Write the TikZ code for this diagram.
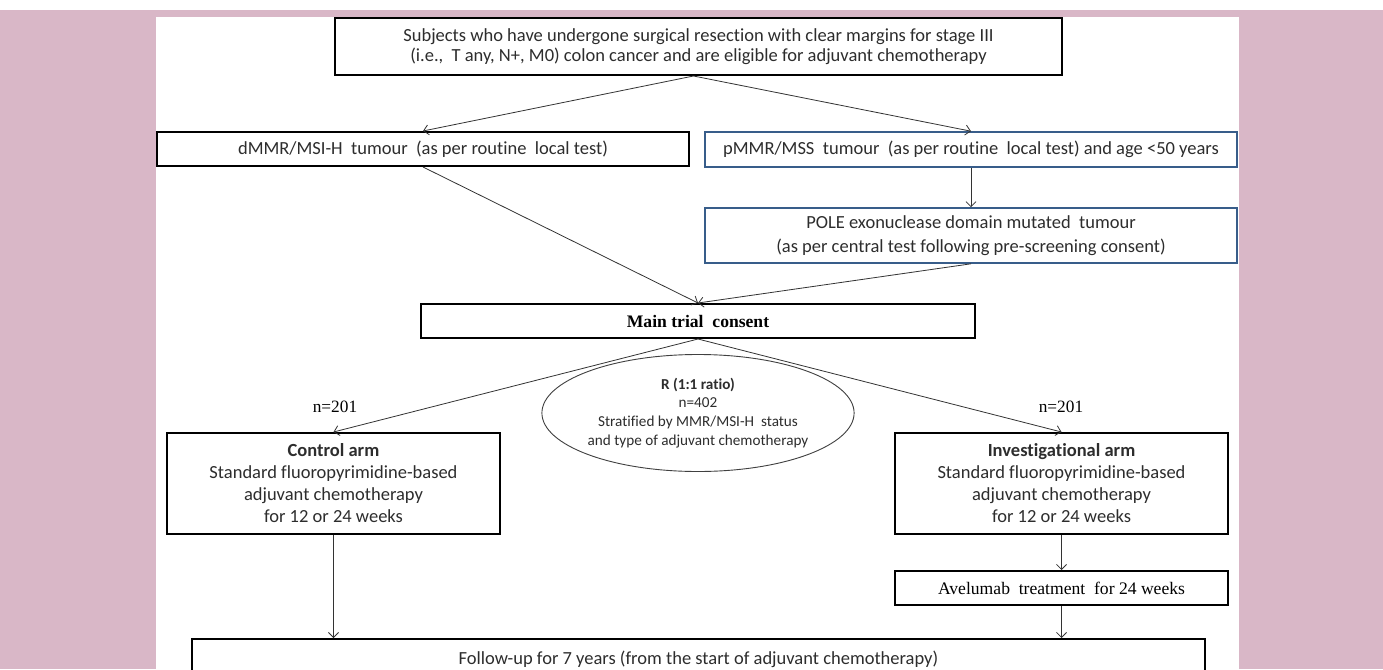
\documentclass[tikz,border=0pt]{standalone}
\usepackage{fontspec}
\setmainfont{Carlito}
\newfontfamily\calfont[Ligatures=NoCommon]{Carlito}
\newfontfamily\tmsfont{Liberation Serif}
\usetikzlibrary{arrows.meta,shapes.geometric,calc}
\definecolor{pinkbg}{RGB}{217,183,199}
\definecolor{boxblue}{RGB}{56,93,138}
\definecolor{txt}{RGB}{45,45,45}
\tikzset{
  box/.style={draw=black, line width=2pt, fill=white, inner sep=0pt, align=center,
    text=txt, font=\calfont\fontsize{18.5}{22}\selectfont},
  bluebox/.style={box, draw=boxblue, line width=1.6pt},
  serifbox/.style={box, text=black, font=\tmsfont\fontsize{17.6}{21}\selectfont},
  conn/.style={draw=black!80, line width=0.8pt, -{Straight Barb[length=5pt,width=10pt]}},
  nlabel/.style={inner sep=0pt, font=\tmsfont\fontsize{17.3}{20}\selectfont},
  oval/.style={ellipse, draw=black!75, line width=0.9pt, inner sep=0pt, align=center,
    text=txt, font=\calfont\fontsize{15.2}{18.7}\selectfont}
}
\begin{document}
\begin{tikzpicture}[x=1pt,y=-1pt]
\useasboundingbox (0,0) rectangle (1383,669);
\clip (0,0) rectangle (1383,669);
\fill[white] (0,0) rectangle (1383,669);
\fill[pinkbg] (0,10) rectangle (1383,669);
\fill[white] (156,17) rectangle (1239,669);

\node[box, minimum width=727, minimum height=57, font=\calfont\fontsize{18.5}{19.5}\selectfont] (top) at (698.5,46.5)
  {Subjects who have undergone surgical resection with clear margins for stage III\\
   (i.e.,\ \ T any, N+, M0) colon cancer and are eligible for adjuvant\ chemotherapy};

\node[box, minimum width=532, minimum height=34] (dmmr) at (423,149)
  {dMMR/MSI-H\ \ tumour\ \ (as per routine\ \ local test)};

\node[bluebox, minimum width=532, minimum height=35] (pmmr) at (971,149.5)
  {pMMR/MSS\ \ tumour\ \ (as per routine\ \ local test) and age <50 years};

\node[bluebox, minimum width=532, minimum height=55, font=\calfont\fontsize{18.5}{24}\selectfont] (pole) at (971,235.5)
  {POLE exonuclease domain mutated\ \ tumour\\(as per central test following pre-screening consent)};

\node[serifbox, minimum width=554, minimum height=34, font=\tmsfont\bfseries\fontsize{17.6}{21}\selectfont] (main) at (698,321)
  {Main trial\ \ consent};

\node[oval, minimum width=294, minimum height=117] (rand) at (698,413)
  {\textbf{R (1:1 ratio)}\\n=402\\Stratified by MMR/MSI-H\ \ status\\and type of adjuvant chemotherapy};

\node[box, minimum width=333, minimum height=101] (ctrl) at (333.5,483.5)
  {\textbf{Control arm}\\Standard fluoropyrimidine-based\\adjuvant chemotherapy\\for 12 or 24 weeks};

\node[box, minimum width=333, minimum height=101] (inv) at (1061.5,483.5)
  {\textbf{Investigational arm}\\Standard fluoropyrimidine-based\\adjuvant chemotherapy\\for 12 or 24 weeks};

\node[serifbox, minimum width=333, minimum height=34] (avel) at (1061.5,588)
  {Avelumab\ \ treatment\ \ for 24 weeks};

\node[box, anchor=north, minimum width=1013, minimum height=40] (follow) at (698.5,638)
  {Follow-up for 7 years (from the start of adjuvant chemotherapy)};

\node[nlabel] (nl) at (335,407) {n=201};
\node[nlabel] (nr) at (1061,407) {n=201};

\draw[conn] ([xshift=-5pt]top.south) -- (dmmr.north);
\draw[conn] ([xshift=-5pt]top.south) -- (pmmr.north);
\draw[conn] (pmmr.south) -- (pole.north);
\draw[conn] (dmmr.south) -- (main.north);
\draw[conn] (pole.south) -- (main.north);
\draw[conn] (main.south) -- (ctrl.north);
\draw[conn] (main.south) -- (inv.north);
\draw[conn] (ctrl.south) -- (ctrl.south |- follow.north);
\draw[conn] (inv.south) -- (avel.north);
\draw[conn] (avel.south) -- (avel.south |- follow.north);
\end{tikzpicture}
\end{document}
